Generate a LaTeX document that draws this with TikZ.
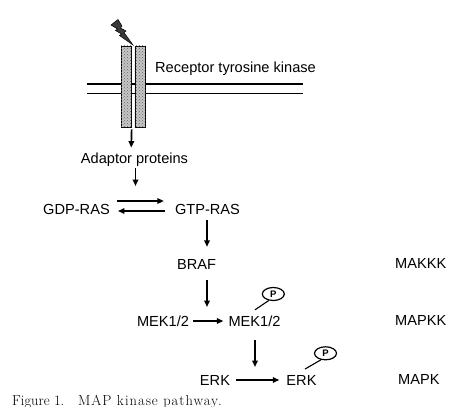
\documentclass[tikz,border=0pt]{standalone}
\usepackage{fontspec}
\setmainfont{Liberation Sans}
\newfontfamily\capfont{Latin Modern Roman}
\usetikzlibrary{arrows.meta,shapes.geometric,calc,patterns}
\begin{document}
\begin{tikzpicture}[x=1pt,y=-1pt,
  lbl/.style={font=\fontsize{14.6}{16}\selectfont, inner sep=0pt, text height=10.5pt, text depth=0pt},
  arr/.style={line width=1.7pt, -{Triangle[length=6.5pt,width=5.5pt]}},
  memb/.style={line width=1.4pt},
  bar/.style={draw, line width=0.9pt, fill=gray!45, rectangle, minimum height=81pt, inner sep=0pt},
  pcirc/.style={draw, line width=1.2pt, ellipse, minimum width=22pt, minimum height=13pt, inner sep=0pt, font=\bfseries\fontsize{9.5}{10}\selectfont},
  plink/.style={line width=1.1pt}]
\path[use as bounding box] (0,0) rectangle (466,407);

% membrane
\draw[memb] (87,84) -- (303,84);
\draw[memb] (87,93.5) -- (303,93.5);
% receptor
\node[bar, minimum width=10.7pt] (barL) at (126.35,86.5) {};
\node[bar, minimum width=10pt] (barR) at (140,86.5) {};
\path[pattern=crosshatch dots, pattern color=gray!80!black] (barL.north west) rectangle (barL.south east);
\path[pattern=crosshatch dots, pattern color=gray!80!black] (barR.north west) rectangle (barR.south east);
% ligand
\filldraw[fill=gray!45!black, draw=black, line width=0.5pt]
  (111,25) -- (118,19.5) -- (122,26) -- (120.5,28) -- (126,31) -- (124,32.5) -- (133,45)
  -- (119.5,35.5) -- (121.5,34) -- (115.5,30.5) -- (117.5,29) -- cycle;

\node[lbl, anchor=west] (rtk) at (155,67) {Receptor tyrosine kinase};
\node[lbl] (adaptor) at (134.5,158) {Adaptor proteins};
\node[lbl] (gdp) at (76.5,209) {GDP-RAS};
\node[lbl] (gtp) at (207.5,209) {GTP-RAS};
\node[lbl] (braf) at (196.5,264) {BRAF};
\node[lbl] (mek1) at (163,321) {MEK1/2};
\node[lbl] (mek2) at (254.5,321) {MEK1/2};
\node[lbl] (erk1) at (215,380) {ERK};
\node[lbl] (erk2) at (301.5,380) {ERK};
\node[lbl, anchor=west] (makkk) at (395,263) {MAKKK};
\node[lbl, anchor=west] (mapkk) at (395,320) {MAPKK};
\node[lbl, anchor=west] (mapk) at (398,379) {MAPK};

\node[pcirc] (p1) at (273.3,294) {P};
\node[pcirc] (p2) at (325.5,353.3) {P};

\coordinate (rasact) at (135.5,186);
\coordinate (mekact) at (207,307);
\coordinate (erkact) at (255,367);

% connectors
\draw[arr] ([xshift=-0.5pt,yshift=-2pt]barL.south east) -- ([xshift=-3.3pt,yshift=5pt]adaptor.north);
\draw[arr] ([xshift=1pt,yshift=-4.75pt]adaptor.south) -- (rasact);
\draw[arr] ([xshift=7pt,yshift=8pt]gdp.east) -- ([xshift=-11pt,yshift=8pt]gtp.west);
\draw[arr] ([xshift=-10pt,yshift=-2pt]gtp.west) -- ([xshift=8pt,yshift=-2pt]gdp.east);
\draw[arr] ([xshift=-0.5pt,yshift=-6pt]gtp.south) -- ([xshift=10.5pt,yshift=11.75pt]braf.north);
\draw[arr] ([xshift=10.5pt,yshift=-10.75pt]braf.south) -- (mekact);
\draw[arr] ([xshift=4pt]mek1.east) -- ([xshift=-5pt]mek2.west);
\draw[arr] ([xshift=0.5pt,yshift=-13.75pt]mek2.south) -- (erkact);
\draw[arr] ([xshift=6pt]erk1.east) -- ([xshift=-7pt]erk2.west);

\draw[plink] (p1.235) -- ([xshift=0.5pt,yshift=5.75pt]mek2.north);
\draw[plink] (p2.235) -- ([xshift=3.5pt,yshift=5.5pt]erk2.north);

\node[anchor=base west, inner sep=0pt, font=\capfont\fontsize{14.5}{17}\selectfont] (cap) at (12,405) {Figure 1.\hspace{0.95em}{\addfontfeature{LetterSpace=7}MAP kinase pathway.}};
\end{tikzpicture}
\end{document}
